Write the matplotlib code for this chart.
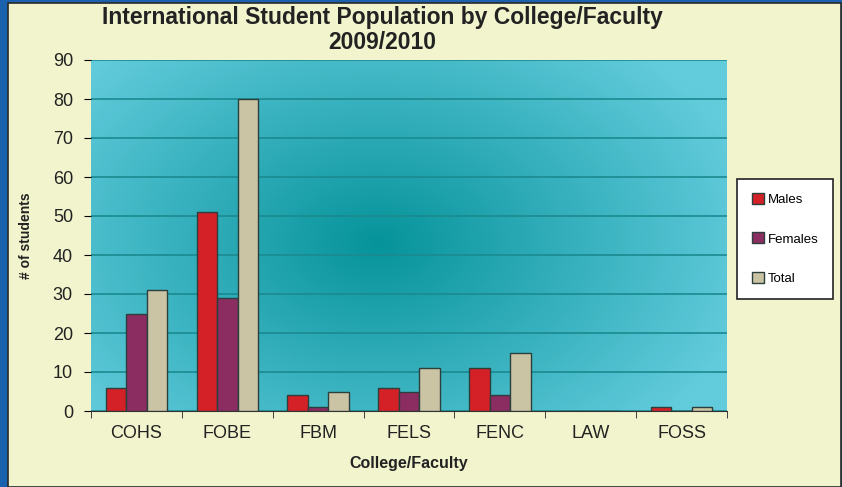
import matplotlib
matplotlib.use("Agg")
import matplotlib.pyplot as plt
import numpy as np
from matplotlib.patches import Rectangle

plt.rcParams['font.family'] = ['Liberation Sans', 'DejaVu Sans']

colleges = ["COHS", "FOBE", "FBM", "FELS", "FENC", "LAW", "FOSS"]
males = [6, 51, 4, 6, 11, 0, 1]
females = [25, 29, 1, 5, 4, 0, 0]
total = [31, 80, 5, 11, 15, 0, 1]

fig = plt.figure(figsize=(8.42, 4.87), dpi=100)
fig.patch.set_facecolor("#1a62ad")
# yellow panel
panel = Rectangle((8 / 842, 0), 833 / 842, 484 / 487, transform=fig.transFigure,
                  facecolor="#f2f4cd", edgecolor="#2a2a2a", linewidth=1.2, zorder=-10)
fig.patches.append(panel)

ax = fig.add_axes([91 / 842, (487 - 411) / 487, 636 / 842, 351 / 487])

# radial teal background
ny, nx = 200, 300
yy, xx = np.mgrid[0:1:ny * 1j, 0:1:nx * 1j]
d = np.sqrt(((xx - 0.45) / 0.6) ** 2 + ((yy - 0.52) / 0.75) ** 2)
d = np.clip(d, 0, 1)
c_in = np.array([0x06, 0x93, 0x9a]) / 255
c_out = np.array([0x62, 0xcb, 0xdc]) / 255
img = c_in[None, None, :] * (1 - d[..., None]) + c_out[None, None, :] * d[..., None]
ax.imshow(img, extent=[0, 1, 0, 1], transform=ax.transAxes, aspect="auto", zorder=0)

w = 0.225
x = np.arange(len(colleges))
ax.bar(x - w, males, w, color="#d42128", edgecolor="#2b3f3d", linewidth=1, label="Males", zorder=3)
ax.bar(x, females, w, color="#8c2d62", edgecolor="#2b3f3d", linewidth=1, label="Females", zorder=3)
ax.bar(x + w, total, w, color="#cbc4a4", edgecolor="#2b3f3d", linewidth=1, label="Total", zorder=3)

ax.set_xlim(-0.5, len(colleges) - 0.5)
ax.set_ylim(0, 90)
ax.set_yticks(range(0, 91, 10))
ax.yaxis.grid(True, color="#1b8a90", linewidth=1.2, zorder=1)
ax.set_axisbelow(True)
ax.set_xticks(x)
ax.set_xticklabels(colleges, fontsize=13, color="#222222")
ax.set_xticks(np.arange(-0.5, len(colleges)), minor=True)
ax.tick_params(axis="x", which="major", length=0, pad=10)
ax.tick_params(axis="x", which="minor", length=5, color="#222222")
ax.tick_params(axis="y", length=5, labelsize=13, labelcolor="#222222", pad=8)
for s in ["top", "right", "left"]:
    ax.spines[s].set_visible(False)
ax.spines["bottom"].set_color("#333333")

ax.set_xlabel("College/Faculty", fontsize=11.5, fontweight="bold", color="#222222", labelpad=10)
ax.set_ylabel("# of students", fontsize=10, fontweight="bold", color="#222222", labelpad=14)

fig.text(382 / 842, 1 - 30 / 487, "International Student Population by College/Faculty\n2009/2010",
         ha="center", va="center", fontsize=16.5, fontweight="bold", color="#222222", linespacing=1.15)

leg = fig.legend(loc="center", bbox_to_anchor=(785 / 842, 1 - 239 / 487), frameon=True,
                 fancybox=False, fontsize=9.5, labelspacing=2.0, handlelength=0.9,
                 handleheight=0.9, handletextpad=0.3, borderpad=1.1, framealpha=1)
leg.get_frame().set_edgecolor("#222222")
leg.get_frame().set_linewidth(1.2)

fig.savefig("out.png", dpi=100, facecolor=fig.get_facecolor())
